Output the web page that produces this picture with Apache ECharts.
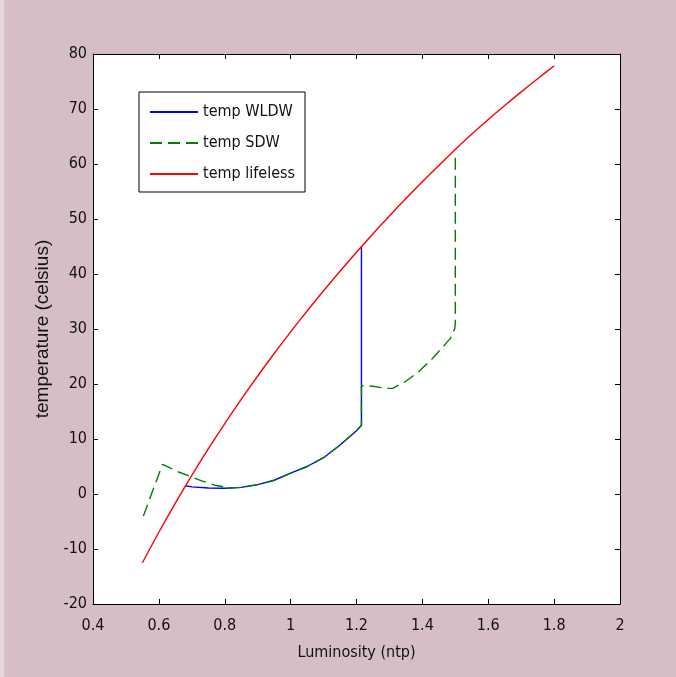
<!DOCTYPE html>
<html>
<head>
<meta charset="utf-8">
<script src="https://cdn.jsdelivr.net/npm/echarts@6/dist/echarts.min.js"></script>
<style>
html,body{margin:0;padding:0;background:#d5bfc5;}
#c{width:676px;height:677px;}
</style>
</head>
<body>
<div id="c"></div>
<script>
// Data
const seriesNames = ['temp WLDW', 'temp SDW', 'temp lifeless'];

const wldwX = [0.68, 0.70, 0.75, 0.80, 0.85, 0.90, 0.95, 1.00, 1.05, 1.10, 1.15, 1.20, 1.215, 1.215];
const wldwY = [1.5, 1.3, 1.1, 1.05, 1.2, 1.7, 2.5, 3.8, 5.0, 6.6, 8.9, 11.5, 12.5, 45.0];

const sdwX = [0.553, 0.611, 0.66, 0.73, 0.77, 0.816, 0.85, 0.90, 0.95, 1.00, 1.05, 1.10, 1.15, 1.20, 1.215, 1.215, 1.25, 1.29, 1.31, 1.35, 1.39, 1.43, 1.46, 1.485, 1.498, 1.50, 1.50];
const sdwY = [-4.0, 5.4, 4.0, 2.4, 1.6, 1.1, 1.2, 1.7, 2.5, 3.8, 5.0, 6.6, 8.9, 11.5, 12.5, 19.7, 19.6, 19.2, 19.2, 20.5, 22.3, 24.6, 26.6, 28.3, 30.0, 31.0, 62.2];

const lifelessX = [0.55, 0.60, 0.65, 0.70, 0.75, 0.80, 0.85, 0.90, 0.95, 1.00, 1.05, 1.10, 1.15, 1.20, 1.25, 1.30, 1.35, 1.40, 1.45, 1.50, 1.55, 1.60, 1.65, 1.70, 1.75, 1.80];
const lifelessY = [-12.5, -6.95, -1.65, 3.4, 8.2, 12.8, 17.2, 21.45, 25.55, 29.48, 33.28, 36.96, 40.51, 43.96, 47.31, 50.56, 53.71, 56.76, 59.74, 62.64, 65.44, 68.09, 70.64, 73.11, 75.51, 77.86];

const xTicks = [0.4, 0.6, 0.8, 1, 1.2, 1.4, 1.6, 1.8, 2];
const yTicks = [-20, -10, 0, 10, 20, 30, 40, 50, 60, 70, 80];

const xTitle = 'Luminosity (ntp)';
const yTitle = 'temperature (celsius)';

function pairs(xs, ys){ return xs.map((x,i)=>[x, ys[i]]); }

const narrow = "'Liberation Sans Narrow', 'DejaVu Sans Condensed', 'Liberation Sans', sans-serif";
const regular = "'Liberation Sans', Arial, sans-serif";

const chart = echarts.init(document.getElementById('c'), null, {renderer:'canvas'});

const axisCommonX = {
  type:'value', min:xTicks[0], max:xTicks[xTicks.length-1], interval:0.2,
  splitLine:{show:false},
  axisLine:{show:true, onZero:false, lineStyle:{color:'#000', width:1}},
  axisTick:{show:true, inside:true, length:5, lineStyle:{color:'#000'}}
};
const axisCommonY = {
  type:'value', min:yTicks[0], max:yTicks[yTicks.length-1], interval:10,
  splitLine:{show:false},
  axisLine:{show:true, onZero:false, lineStyle:{color:'#000', width:1}},
  axisTick:{show:true, inside:true, length:5, lineStyle:{color:'#000'}}
};

chart.setOption({
  backgroundColor:'#d5bfc5',
  animation:false,
  graphic:[{type:'rect', left:0, top:0, shape:{width:4, height:677}, style:{fill:'#e4d8db'}, silent:true}],
  grid:{left:93, right:56, top:54, bottom:73, show:true, backgroundColor:'#fff', borderWidth:0},
  legend:{
    left:139, top:92, orient:'vertical',
    backgroundColor:'#fff', borderColor:'#000', borderWidth:1,
    padding:[12,10,10,10],
    itemWidth:48, itemHeight:14, itemGap:15,
    itemStyle:{opacity:0},
    textStyle:{fontFamily:narrow, fontSize:16, lineHeight:14, color:'#111'},
    data:seriesNames
  },
  xAxis:[
    Object.assign({}, axisCommonX, {
      position:'bottom',
      name:xTitle, nameLocation:'middle', nameGap:41,
      nameTextStyle:{fontFamily:narrow, fontSize:16, color:'#111'},
      axisLabel:{show:true, margin:14, fontFamily:narrow, fontSize:16, color:'#111',
        formatter:v=>String(Math.round(v*10)/10)}
    }),
    Object.assign({}, axisCommonX, {position:'top', axisLabel:{show:false}})
  ],
  yAxis:[
    Object.assign({}, axisCommonY, {
      position:'left',
      name:yTitle, nameLocation:'middle', nameGap:22, nameRotate:90,
      nameTextStyle:{fontFamily:regular, fontSize:19, color:'#111'},
      axisLabel:{show:true, margin:6, fontFamily:narrow, fontSize:16, color:'#111'}
    }),
    Object.assign({}, axisCommonY, {position:'right', axisLabel:{show:false}})
  ],
  series:[
    {name:seriesNames[0], type:'line', data:pairs(wldwX, wldwY), showSymbol:false, symbol:'none',
      lineStyle:{color:'#0000ff', width:1.4}, itemStyle:{color:'#0000ff'}, z:2},
    {name:seriesNames[1], type:'line', data:pairs(sdwX, sdwY), showSymbol:false, symbol:'none',
      lineStyle:{color:'#007f00', width:1.4, type:[12,6]}, itemStyle:{color:'#007f00'}, z:3},
    {name:seriesNames[2], type:'line', data:pairs(lifelessX, lifelessY), showSymbol:false, symbol:'none', smooth:0.3,
      lineStyle:{color:'#ff0000', width:1.4}, itemStyle:{color:'#ff0000'}, z:4}
  ]
});
</script>
</body>
</html>
